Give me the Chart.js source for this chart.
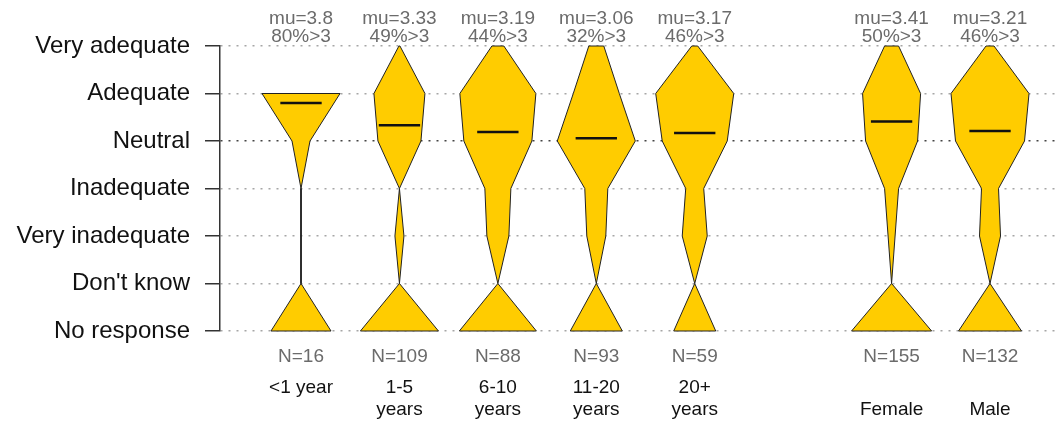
<!DOCTYPE html>
<html>
<head>
<meta charset="utf-8">
<script src="https://cdn.jsdelivr.net/npm/chart.js@4.4.1/dist/chart.umd.min.js"></script>
<style>
  html, body { margin: 0; padding: 0; background: #fff; }
</style>
</head>
<body>
<canvas id="violins" width="1063" height="425"></canvas>
<script>
// answer levels, bottom to top
const levels = ["No response", "Don't know", "Very inadequate", "Inadequate", "Neutral", "Adequate", "Very adequate"];

// groups along x (slot 6 is left empty between tenure and gender)
const groupLabels = [["<1 year"], ["1-5", "years"], ["6-10", "years"], ["11-20", "years"], ["20+", "years"], ["", "Female"], ["", "Male"]];
const groupPos = [1, 2, 3, 4, 5, 7, 8];
const counts = [16, 109, 88, 93, 59, 155, 132];
const means = [3.8, 3.33, 3.19, 3.06, 3.17, 3.41, 3.21];
const pctAbove3 = [80, 49, 44, 32, 46, 50, 46];

// violin widths at each level (same order as levels)
const widthLess1 = [60, 0, 0, 0, 18, 78, 0];
const width1to5 = [78, 0, 9, 0, 43, 51, 1];
const width6to10 = [77, 0, 22, 26, 68, 76, 12];
const width11to20 = [52, 0, 19, 23, 78, 46, 15];
const width20plus = [42, 0, 25, 18, 65, 78, 6];
const widthFemale = [80, 0, 7, 14, 52, 58, 14];
const widthMale = [63, 0, 21, 17, 69, 78, 8];
const allWidths = [widthLess1, width1to5, width6to10, width11to20, width20plus, widthFemale, widthMale];

const widthScale = 1 / 98.4;   // width units -> x units
const meanHalf = 0.21;
const xMin = 0.177, xMax = 8.711;

Chart.defaults.font.family = "'Liberation Sans', Arial, sans-serif";

// closed outline: up the right side, down the left side
function outline(pos, w) {
    let top = w.length - 1;
    while (top > 0 && w[top] === 0) top--;
    const right = [], left = [];
    for (let i = 0; i <= top; i++) {
        right.push({ x: pos + w[i] * widthScale / 2, y: i });
        left.unshift({ x: pos - w[i] * widthScale / 2, y: i });
    }
    const pts = right.concat(left);
    pts.push(pts[0]);
    return pts;
}

const datasets = [];
allWidths.forEach((w, i) => {
    datasets.push({
        data: outline(groupPos[i], w),
        xAxisID: "x",
        yAxisID: "y",
        order: 1,
        fill: "shape",
        backgroundColor: "#FFCC00",
        borderColor: "#222",
        borderWidth: 1,
        borderJoinStyle: "miter",
        pointRadius: 0,
        tension: 0,
        clip: false
    });
    // mean line (level index = score + 1)
    datasets.push({
        data: [{ x: groupPos[i] - meanHalf, y: means[i] + 1 }, { x: groupPos[i] + meanHalf, y: means[i] + 1 }],
        xAxisID: "x",
        yAxisID: "y",
        order: 0,
        fill: false,
        borderColor: "#111",
        borderWidth: 2.5,
        pointRadius: 0,
        clip: false
    });
});

const setGroupTicks = scale => { scale.ticks = groupPos.map(v => ({ value: v })); };
const hiddenLine = { grid: { display: false, drawTicks: false }, border: { display: false } };

new Chart(document.getElementById("violins"), {
    type: "line",
    data: { datasets: datasets },
    options: {
        responsive: false,
        animation: false,
        layout: { padding: { left: 0, right: 3, top: 0, bottom: 0 } },
        plugins: { legend: { display: false }, tooltip: { enabled: false } },
        scales: {
            x: {
                type: "linear", position: "bottom", weight: 0,
                min: xMin, max: xMax, bounds: "data",
                afterBuildTicks: setGroupTicks,
                afterFit: s => { s.height = 40; },
                ticks: {
                    callback: (v, i) => "N=" + counts[i],
                    font: { size: 19 }, color: "#6b6b6b", padding: 14,
                    autoSkip: false, maxRotation: 0
                },
                ...hiddenLine
            },
            xCat: {
                type: "linear", position: "bottom", weight: 1,
                min: xMin, max: xMax, bounds: "data",
                afterBuildTicks: setGroupTicks,
                afterFit: s => { s.height = 54; },
                ticks: {
                    callback: (v, i) => groupLabels[i],
                    font: { size: 19, lineHeight: 22 / 19 }, color: "#111", padding: 6,
                    autoSkip: false, maxRotation: 0
                },
                ...hiddenLine
            },
            xTop: {
                type: "linear", position: "top",
                min: xMin, max: xMax, bounds: "data",
                afterBuildTicks: setGroupTicks,
                afterFit: s => { s.height = 46; },
                ticks: {
                    callback: (v, i) => ["mu=" + means[i], pctAbove3[i] + "%>3"],
                    font: { size: 19, lineHeight: 0.95 }, color: "#6b6b6b", padding: 0,
                    autoSkip: false, maxRotation: 0
                },
                ...hiddenLine
            },
            y: {
                type: "linear", min: 0, max: 6,
                afterBuildTicks: s => { s.ticks = levels.map((_, i) => ({ value: i })); },
                afterFit: s => { s.width = 220; },
                ticks: {
                    callback: v => levels[v],
                    font: { size: 24 }, color: "#111", padding: 15
                },
                grid: {
                    color: ctx => (ctx.tick && ctx.tick.value === 4) ? "#444" : "#a6a6a6",
                    lineWidth: 1.5,
                    tickLength: 15,
                    tickColor: "#333",
                    tickWidth: 1.5
                },
                border: { display: true, color: "#333", width: 1.5, dash: [2, 6] }
            }
        }
    }
});
</script>
</body>
</html>
